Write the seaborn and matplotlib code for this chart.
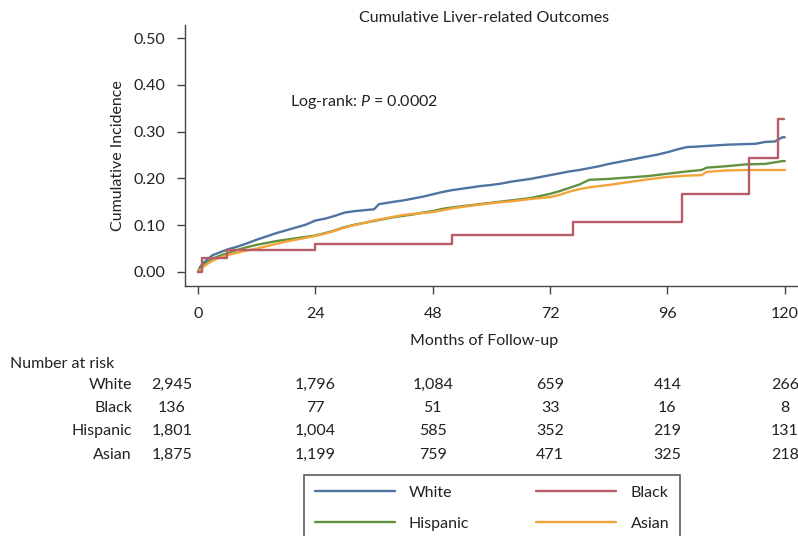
import pandas as pd
import seaborn as sns
from matplotlib import pyplot as plt
from matplotlib import transforms
from matplotlib.lines import Line2D

# Cumulative incidence curves
white_t = [0, 0.5, 1, 2, 3, 4, 5, 6, 8, 10, 12, 14, 16, 18, 20, 22, 24, 26, 28, 30, 32, 34, 36, 37,
           40, 42, 44, 46, 48, 50, 52, 54, 56, 58, 60, 62, 64, 66, 68, 70, 72, 74, 76, 78, 80, 82,
           84, 86, 88, 90, 92, 94, 96, 98, 100, 102, 105, 108, 111, 114, 116, 118, 119.5, 120]
white_v = [0, 0.012, 0.018, 0.028, 0.036, 0.040, 0.044, 0.048, 0.054, 0.061, 0.069, 0.076, 0.083,
           0.089, 0.095, 0.101, 0.110, 0.114, 0.120, 0.127, 0.130, 0.132, 0.134, 0.145, 0.150,
           0.153, 0.157, 0.161, 0.166, 0.171, 0.175, 0.178, 0.181, 0.184, 0.186, 0.189, 0.193,
           0.196, 0.199, 0.203, 0.207, 0.211, 0.215, 0.218, 0.222, 0.226, 0.231, 0.235, 0.239,
           0.243, 0.247, 0.251, 0.256, 0.262, 0.267, 0.268, 0.270, 0.272, 0.273, 0.274, 0.278,
           0.279, 0.288, 0.288]

black_t = [0, 0.9, 5.9, 23.9, 52.0, 76.7, 98.9, 112.7, 118.6, 119.8]
black_v = [0, 0.029, 0.047, 0.059, 0.079, 0.106, 0.166, 0.243, 0.327, 0.327]

hisp_t = [0, 0.5, 1, 2, 3, 4, 6, 8, 10, 12, 14, 16, 18, 20, 22, 24, 26, 28, 30, 32, 34, 36, 38, 40,
          42, 44, 46, 48, 50, 52, 56, 60, 64, 68, 72, 74, 76, 78, 80, 84, 88, 92, 96, 100, 103,
          104, 108, 112, 116, 119.5, 120]
hisp_v = [0, 0.008, 0.013, 0.022, 0.028, 0.033, 0.040, 0.047, 0.053, 0.058, 0.062, 0.066, 0.069,
          0.072, 0.075, 0.078, 0.083, 0.089, 0.096, 0.101, 0.105, 0.109, 0.113, 0.117, 0.120,
          0.123, 0.127, 0.130, 0.135, 0.138, 0.143, 0.148, 0.153, 0.158, 0.167, 0.173, 0.180,
          0.187, 0.197, 0.199, 0.202, 0.205, 0.210, 0.215, 0.218, 0.223, 0.226, 0.230, 0.231,
          0.237, 0.237]

asian_t = [0, 0.5, 1, 2, 3, 4, 6, 8, 10, 12, 14, 16, 18, 20, 22, 24, 26, 28, 30, 32, 34, 36, 38, 40,
           42, 44, 46, 48, 50, 52, 56, 60, 64, 68, 72, 74, 76, 78, 80, 84, 88, 92, 96, 100, 103,
           104, 108, 112, 116, 120]
asian_v = [0, 0.005, 0.010, 0.018, 0.024, 0.029, 0.036, 0.041, 0.046, 0.050, 0.055, 0.060, 0.065,
           0.069, 0.073, 0.077, 0.082, 0.088, 0.095, 0.100, 0.105, 0.110, 0.114, 0.118, 0.122,
           0.124, 0.126, 0.128, 0.132, 0.136, 0.142, 0.147, 0.151, 0.156, 0.160, 0.165, 0.172,
           0.177, 0.181, 0.186, 0.192, 0.198, 0.203, 0.206, 0.207, 0.214, 0.217, 0.218, 0.218,
           0.218]

# Number at risk
risk_times = [0, 24, 48, 72, 96, 120]
risk_white = [2945, 1796, 1084, 659, 414, 266]
risk_black = [136, 77, 51, 33, 16, 8]
risk_hisp = [1801, 1004, 585, 352, 219, 131]
risk_asian = [1875, 1199, 759, 471, 325, 218]

groups = ["White", "Black", "Hispanic", "Asian"]
colors = {"White": "#4f74a0", "Black": "#b85c66", "Hispanic": "#62913f", "Asian": "#f2a43a"}

frames = []
for name, t, v in [("White", white_t, white_v), ("Black", black_t, black_v),
                   ("Hispanic", hisp_t, hisp_v), ("Asian", asian_t, asian_v)]:
    frames.append(pd.DataFrame({"month": t, "inc": v, "group": name}))
df = pd.concat(frames, ignore_index=True)

sns.set_style("ticks")
plt.rcParams['font.family'] = ['Lato', 'DejaVu Sans']
plt.rcParams['mathtext.fontset'] = 'custom'
plt.rcParams['mathtext.it'] = 'Lato:italic'
plt.rcParams['mathtext.rm'] = 'Lato'
txt = "#222222"
fs = 11.5

fig = plt.figure(figsize=(7.98, 5.36), dpi=100)
ax = fig.add_axes([185 / 798, 1 - 286 / 536, 1 - 185 / 798, (286 - 25) / 536])

# dense curves drawn as lines, the sparse Black curve as steps
dense = df[df.group != "Black"]
sns.lineplot(data=dense, x="month", y="inc", hue="group", hue_order=["White", "Hispanic", "Asian"],
             palette=colors, linewidth=1.7, legend=False, ax=ax, estimator=None, sort=False)
sns.lineplot(data=df[df.group == "Black"], x="month", y="inc", color=colors["Black"],
             drawstyle="steps-post", linewidth=1.7, legend=False, ax=ax, estimator=None)

ax.set_xlim(-2.66, 122.7)
ax.set_ylim(-0.03, 0.528)
ax.set_xticks(risk_times)
ax.set_yticks([0, 0.1, 0.2, 0.3, 0.4, 0.5])
ax.set_yticklabels([f"{v:.2f}" for v in [0, 0.1, 0.2, 0.3, 0.4, 0.5]])
ax.tick_params(colors="#444444", labelcolor=txt, labelsize=fs, length=6, width=1)
ax.tick_params(axis="x", pad=9)
ax.tick_params(axis="y", pad=8)
for s in ["top", "right"]:
    ax.spines[s].set_visible(False)
for s in ["left", "bottom"]:
    ax.spines[s].set_color("#444444")
    ax.spines[s].set_linewidth(1)
ax.set_xlabel("")
ax.set_ylabel("Cumulative Incidence", fontsize=fs, color=txt, labelpad=6)

fig.text(484 / 798, 1 - 18 / 536, "Cumulative Liver-related Outcomes", ha="center", va="center",
         fontsize=fs, color=txt)
ax.text(18.8, 0.363, "Log-rank: $P$ = 0.0002", fontsize=fs, color=txt, va="center")
fig.text(484 / 798, 1 - 341 / 536, "Months of Follow-up", ha="center", va="center",
         fontsize=fs, color=txt)

# number-at-risk table
tr = transforms.blended_transform_factory(ax.transData, fig.transFigure)
fig.text(10 / 798, 1 - 364 / 536, "Number at risk", ha="left", va="center", fontsize=fs, color=txt)
row_y = [385, 408, 431, 455]
col_x = [-5.3] + risk_times[1:]
for name, counts, y in zip(groups, [risk_white, risk_black, risk_hisp, risk_asian], row_y):
    ax.text(-13.5, 1 - y / 536, name, transform=tr, ha="right", va="center", fontsize=fs, color=txt)
    for x, n in zip(col_x, counts):
        ax.text(x, 1 - y / 536, f"{n:,}", transform=tr, ha="center", va="center",
                fontsize=fs, color=txt)

# legend rows: White / Black, Hispanic / Asian (ncol fills column-wise)
leg_order = ["White", "Hispanic", "Black", "Asian"]
handles = [Line2D([], [], color=colors[g], linewidth=1.7) for g in leg_order]
leg = fig.legend(handles, leg_order, loc="upper center", bbox_to_anchor=(492 / 798, 1 - 475 / 536),
                 ncol=2, fontsize=fs, frameon=True, fancybox=False, handlelength=5.0,
                 columnspacing=4.2, labelspacing=1.05, borderpad=0.65, handletextpad=0.9,
                 borderaxespad=0)
leg.get_frame().set_edgecolor("#333333")
leg.get_frame().set_linewidth(1.2)
for t in leg.get_texts():
    t.set_color(txt)

fig.savefig("out.png", dpi=100)
